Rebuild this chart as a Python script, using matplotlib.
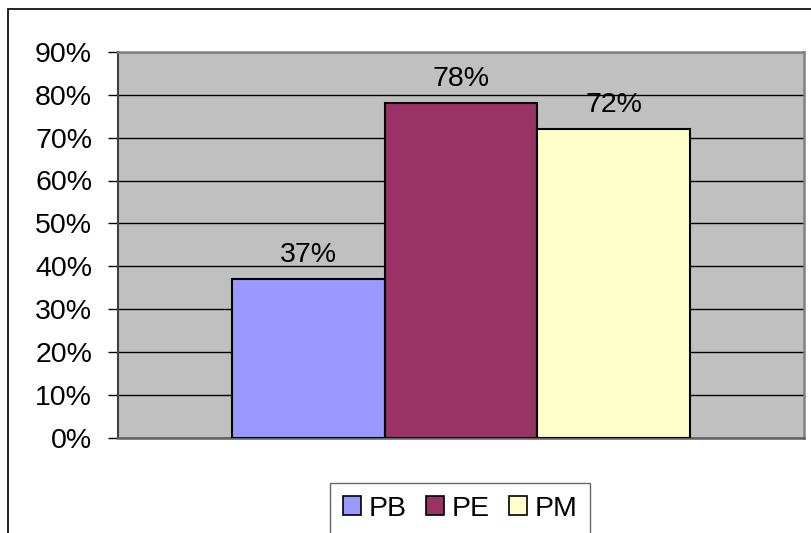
import matplotlib
matplotlib.use("Agg")
import matplotlib.pyplot as plt
from matplotlib.patches import Rectangle
from matplotlib.ticker import FuncFormatter

series = ["PB", "PE", "PM"]
values = [0.37, 0.78, 0.72]
colors = ["#9999FF", "#993366", "#FFFFCC"]
y_ticks = [0.0, 0.1, 0.2, 0.3, 0.4, 0.5, 0.6, 0.7, 0.8, 0.9]

plt.rcParams["font.family"] = ["Liberation Sans", "DejaVu Sans"]
FS = 20.5

W, H = 811, 533
fig = plt.figure(figsize=(W / 100, H / 100), dpi=100)
fig.patch.set_facecolor("white")

# chart area border (runs off the right and bottom edges)
fig.add_artist(Rectangle((8 / W, -0.2), 1.2, 1 - 9 / H + 0.2,
                         transform=fig.transFigure, fill=False,
                         edgecolor="black", linewidth=1.2))

left, right, top, bottom = 118, 804, 52, 437.5
ax = fig.add_axes([left / W, 1 - bottom / H, (right - left) / W, (bottom - top) / H])
ax.set_facecolor("#C0C0C0")

bar_w = 1 / 4.5
offsets = [-bar_w, 0.0, bar_w]
bars = []
for name, val, col, off in zip(series, values, colors, offsets):
    b = ax.bar(off, val, width=bar_w, color=col, edgecolor="black",
               linewidth=1.5, label=name, zorder=3)
    ax.bar_label(b, labels=[f"{round(val * 100):d}%"], padding=8,
                 fontsize=FS, zorder=4)
    bars.append(b)

ax.set_xlim(-0.5, 0.5)
ax.set_ylim(0, 0.9)
ax.set_yticks(y_ticks)
ax.yaxis.set_major_formatter(FuncFormatter(lambda v, p: f"{round(v * 100):d}%"))
ax.set_xticks([])
ax.grid(axis="y", color="black", linewidth=1.0, zorder=1)
ax.set_axisbelow(True)
ax.tick_params(axis="y", direction="out", length=7.2, width=1.0,
               pad=11.5, labelsize=FS, color="black")

for side in ["top", "right", "bottom"]:
    ax.spines[side].set_color("#808080")
    ax.spines[side].set_linewidth(1.8)
ax.spines["left"].set_color("#404040")
ax.spines["left"].set_linewidth(1.5)
ax.spines["bottom"].set_color("#606060")

leg = fig.legend(handles=[b for b in bars], labels=series,
                 loc="upper center", bbox_to_anchor=(460 / W, 1 - 483 / H),
                 ncol=3, fontsize=FS, frameon=True, fancybox=False,
                 handlelength=0.63, handleheight=0.63, handletextpad=0.28,
                 columnspacing=0.67, borderpad=0.45, borderaxespad=0)
leg.get_frame().set_edgecolor("#404040")
leg.get_frame().set_linewidth(1.0)
for h in leg.legend_handles:
    h.set_linewidth(1.2)

fig.savefig("out.png", dpi=100)
